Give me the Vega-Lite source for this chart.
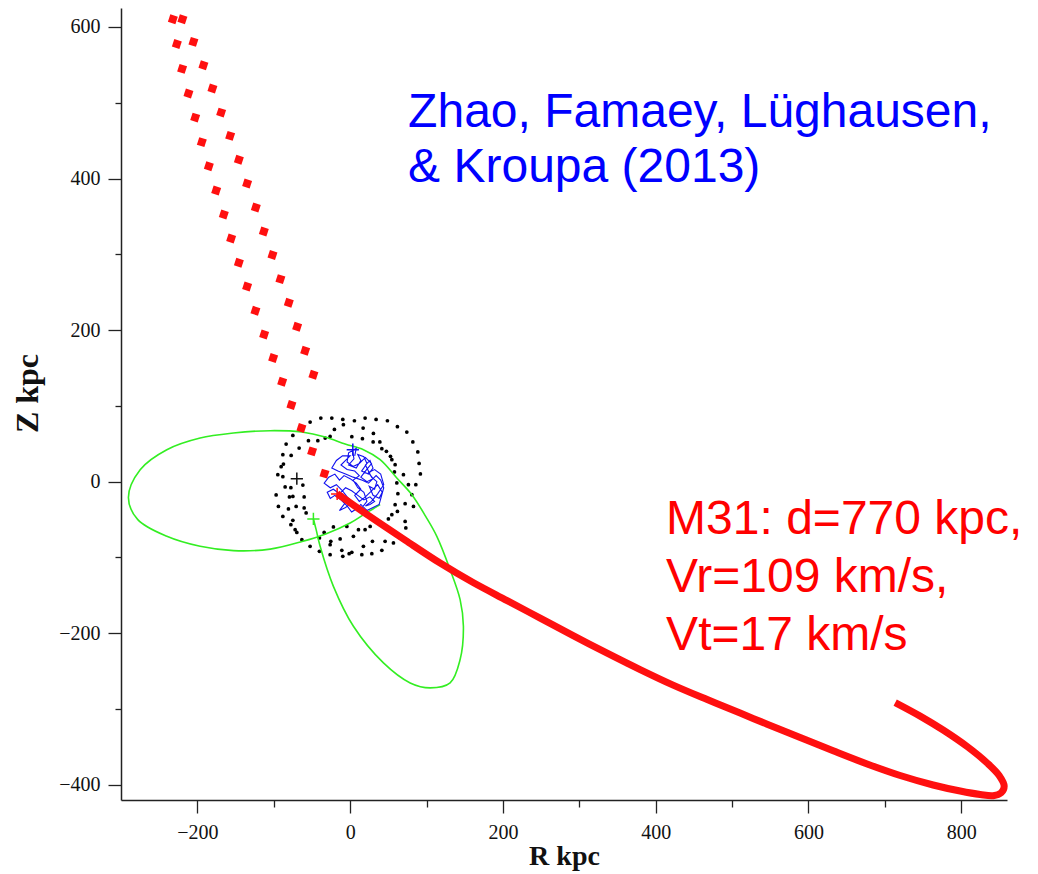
{
  "$schema": "https://vega.github.io/schema/vega-lite/v6.json",
  "width": 886,
  "height": 792,
  "autosize": {"type": "none"},
  "padding": {"left": 121, "top": 8, "right": 31, "bottom": 74},
  "background": "white",
  "config": {"view": {"stroke": null}, "font": "Liberation Serif"},
  "datasets": {
    "dots": [
      {"R":-52.4,"Z":78.7},{"R":-38.4,"Z":84.0},{"R":-24.0,"Z":84.0},{"R":-9.6,"Z":82.2},{"R":-20.6,"Z":69.0},{"R":-8.8,"Z":75.2},{"R":-32.7,"Z":57.6},{"R":-26.2,"Z":59.7},{"R":-42.3,"Z":54.1},{"R":-54.6,"Z":54.1},{"R":-75.0,"Z":61.1},{"R":-83.8,"Z":49.7},{"R":-66.8,"Z":44.4},{"R":-88.1,"Z":35.6},{"R":-77.2,"Z":34.7},{"R":-87.3,"Z":23.3},{"R":-90.3,"Z":19.8},{"R":-94.7,"Z":9.2},{"R":-88.1,"Z":6.6},
      {"R":5.6,"Z":80.4},{"R":19.6,"Z":84.0},{"R":34.0,"Z":82.2},{"R":48.8,"Z":80.4},{"R":61.9,"Z":72.5},{"R":74.2,"Z":65.5},{"R":82.1,"Z":52.4},{"R":88.6,"Z":39.2},{"R":90.3,"Z":24.1},{"R":92.0,"Z":10.2},{"R":17.0,"Z":70.8},{"R":30.5,"Z":63.7},{"R":2.2,"Z":59.3},{"R":16.1,"Z":56.7},{"R":30.1,"Z":52.4},{"R":38.9,"Z":52.4},{"R":41.5,"Z":43.5},{"R":47.5,"Z":40.0},{"R":52.8,"Z":33.4},{"R":54.6,"Z":29.0},{"R":58.9,"Z":22.4},{"R":58.0,"Z":12.8},{"R":69.8,"Z":9.2},{"R":61.1,"Z":-1.7},{"R":76.3,"Z":-4.0},
      {"R":-96.9,"Z":-17.5},{"R":-85.1,"Z":-7.0},{"R":-77.6,"Z":-7.9},{"R":-61.9,"Z":-4.4},{"R":-79.5,"Z":-20.2},{"R":-75.0,"Z":-19.4},{"R":-60.2,"Z":-20.2},{"R":-93.9,"Z":-32.6},{"R":-80.8,"Z":-36.0},{"R":-70.7,"Z":-32.6},{"R":-60.2,"Z":-34.7},{"R":-57.6,"Z":-41.3},{"R":-88.1,"Z":-45.8},{"R":-75.0,"Z":-51.0},{"R":-77.6,"Z":-56.7},{"R":-72.0,"Z":-63.3},{"R":-69.8,"Z":-66.9},{"R":-63.2,"Z":-76.5},{"R":-52.4,"Z":-85.3},{"R":-40.2,"Z":-74.2},{"R":-34.0,"Z":-66.9},{"R":-21.9,"Z":-59.7},{"R":-25.3,"Z":-78.7},{"R":-26.2,"Z":-83.1},{"R":-13.1,"Z":-75.6},{"R":-10.9,"Z":-90.6},{"R":-4.3,"Z":-59.0},{"R":-9.6,"Z":-98.5},{"R":-26.2,"Z":-96.3},{"R":-40.2,"Z":-91.9},
      {"R":86.0,"Z":-4.0},{"R":80.8,"Z":-17.1},{"R":62.5,"Z":-15.8},{"R":58.9,"Z":-30.3},{"R":72.0,"Z":-29.0},{"R":82.9,"Z":-32.6},{"R":61.9,"Z":-39.2},{"R":54.6,"Z":-43.5},{"R":50.1,"Z":-49.2},{"R":39.3,"Z":-54.5},{"R":45.8,"Z":-59.0},{"R":26.2,"Z":-59.0},{"R":19.6,"Z":-63.3},{"R":10.9,"Z":-63.3},{"R":4.3,"Z":-72.1},{"R":72.0,"Z":-52.4},{"R":72.9,"Z":-61.1},{"R":65.5,"Z":-74.2},{"R":56.7,"Z":-80.8},{"R":45.8,"Z":-78.7},{"R":29.2,"Z":-78.7},{"R":17.4,"Z":-85.3},{"R":2.2,"Z":-93.2},{"R":-1.3,"Z":-95.0},{"R":15.3,"Z":-96.3},{"R":28.4,"Z":-95.0},{"R":41.5,"Z":-90.6}
    ],
    "green": [
      {"i":1,"R":-48.1,"Z":-49.2},{"i":2,"R":-44.5,"Z":-63.3},{"i":3,"R":-39.3,"Z":-85.3},{"i":4,"R":-21.9,"Z":-138.1},{"i":5,"R":4.3,"Z":-190.8},{"i":6,"R":43.6,"Z":-239.1},{"i":7,"R":78.6,"Z":-265.5},{"i":8,"R":104.7,"Z":-272.1},{"i":9,"R":130.9,"Z":-265.5},{"i":10,"R":144.0,"Z":-234.7},{"i":11,"R":148.3,"Z":-190.8},{"i":12,"R":144.0,"Z":-155.6},{"i":13,"R":130.9,"Z":-116.1},{"i":14,"R":113.5,"Z":-72.1},{"i":15,"R":98.9,"Z":-45.8},{"i":16,"R":80.8,"Z":-17.1},{"i":17,"R":61.1,"Z":4.9},{"i":18,"R":39.3,"Z":29.0},{"i":19,"R":17.4,"Z":42.2},{"i":20,"R":-6.5,"Z":49.7},{"i":21,"R":-32.7,"Z":59.0},{"i":22,"R":-63.2,"Z":65.5},{"i":23,"R":-104.7,"Z":67.3},{"i":24,"R":-152.8,"Z":64.2},{"i":25,"R":-196.4,"Z":57.6},{"i":26,"R":-240.0,"Z":42.2},{"i":27,"R":-274.9,"Z":15.8},{"i":28,"R":-290.3,"Z":-21.0},{"i":29,"R":-278.0,"Z":-50.1},{"i":30,"R":-240.0,"Z":-72.1},{"i":31,"R":-196.4,"Z":-85.3},{"i":32,"R":-152.8,"Z":-91.0},{"i":33,"R":-104.7,"Z":-89.0},{"i":34,"R":-63.0,"Z":-79.0},{"i":35,"R":-32.0,"Z":-69.0},{"i":36,"R":0.0,"Z":-54.5},{"i":37,"R":19.6,"Z":-42.2},{"i":38,"R":39.3,"Z":-30.3}
    ],
    "blue": [
      {"i":1,"R":3,"Z":42},{"i":2,"R":5,"Z":30},{"i":3,"R":-2,"Z":22},{"i":4,"R":8,"Z":18},{"i":5,"R":14,"Z":28},{"i":6,"R":10,"Z":36},{"i":7,"R":18,"Z":33},{"i":8,"R":22,"Z":24},{"i":9,"R":15,"Z":14},{"i":10,"R":24,"Z":10},{"i":11,"R":30,"Z":18},{"i":12,"R":26,"Z":28},{"i":13,"R":20,"Z":22},{"i":14,"R":28,"Z":6},{"i":15,"R":35,"Z":0},{"i":16,"R":32,"Z":-10},{"i":17,"R":25,"Z":-6},{"i":18,"R":30,"Z":-18},{"i":19,"R":38,"Z":-22},{"i":20,"R":42,"Z":-14},{"i":21,"R":36,"Z":-4},{"i":22,"R":28,"Z":-12},{"i":23,"R":20,"Z":-20},{"i":24,"R":12,"Z":-26},{"i":25,"R":6,"Z":-18},{"i":26,"R":14,"Z":-10},{"i":27,"R":8,"Z":-2},{"i":28,"R":0,"Z":4},{"i":29,"R":-8,"Z":8},{"i":30,"R":-14,"Z":2},{"i":31,"R":-20,"Z":10},{"i":32,"R":-28,"Z":6},{"i":33,"R":-34,"Z":-2},{"i":34,"R":-26,"Z":-8},{"i":35,"R":-18,"Z":-4},{"i":36,"R":-10,"Z":-12},{"i":37,"R":-4,"Z":-20},{"i":38,"R":2,"Z":-28},{"i":39,"R":-6,"Z":-34},{"i":40,"R":-14,"Z":-38},{"i":41,"R":-8,"Z":-30},{"i":42,"R":-2,"Z":-22},{"i":43,"R":6,"Z":-30},{"i":44,"R":16,"Z":-34},{"i":45,"R":22,"Z":-26},{"i":46,"R":18,"Z":-14},{"i":47,"R":10,"Z":-8},{"i":48,"R":4,"Z":2},{"i":49,"R":12,"Z":8},{"i":50,"R":6,"Z":14},{"i":51,"R":-4,"Z":16},{"i":52,"R":-12,"Z":22},{"i":53,"R":-6,"Z":28},{"i":54,"R":0,"Z":34},{"i":55,"R":-10,"Z":34},{"i":56,"R":-18,"Z":28},{"i":57,"R":-24,"Z":18},{"i":58,"R":-16,"Z":14},{"i":59,"R":-6,"Z":10},{"i":60,"R":4,"Z":6},{"i":61,"R":16,"Z":2},{"i":62,"R":24,"Z":-2},{"i":63,"R":34,"Z":8},{"i":64,"R":40,"Z":2},{"i":65,"R":44,"Z":-8},{"i":66,"R":38,"Z":-30},{"i":67,"R":30,"Z":-34},{"i":68,"R":22,"Z":-38},{"i":69,"R":14,"Z":-30},{"i":70,"R":8,"Z":-36},{"i":71,"R":2,"Z":-40},{"i":72,"R":-4,"Z":-32},{"i":73,"R":-12,"Z":-24},{"i":74,"R":-20,"Z":-18},{"i":75,"R":-26,"Z":-22},{"i":76,"R":-30,"Z":-14},{"i":77,"R":-22,"Z":-10},{"i":78,"R":-14,"Z":-16},{"i":79,"R":-6,"Z":-8},{"i":80,"R":2,"Z":-12},{"i":81,"R":10,"Z":-18},{"i":82,"R":18,"Z":-24},{"i":83,"R":26,"Z":-20},{"i":84,"R":32,"Z":-26},{"i":85,"R":26,"Z":-30},{"i":86,"R":20,"Z":-32},{"i":87,"R":28,"Z":-26},{"i":88,"R":36,"Z":-16},{"i":89,"R":44,"Z":-4},{"i":90,"R":40,"Z":10},{"i":91,"R":32,"Z":16},{"i":92,"R":24,"Z":12},{"i":93,"R":30,"Z":4},{"i":94,"R":22,"Z":0},{"i":95,"R":14,"Z":6},{"i":96,"R":20,"Z":14},{"i":97,"R":28,"Z":24},{"i":98,"R":20,"Z":32},{"i":99,"R":12,"Z":24},{"i":100,"R":4,"Z":20},{"i":101,"R":-4,"Z":26},{"i":102,"R":-2,"Z":38},{"i":103,"R":8,"Z":44},{"i":104,"R":6,"Z":34}
    ],
    "squares": [
      {"R":-232.1,"Z":610.2},{"R":-226.9,"Z":577.6},{"R":-220.0,"Z":544.7},{"R":-211.7,"Z":512.1},{"R":-202.9,"Z":480.4},{"R":-194.2,"Z":448.0},{"R":-185.0,"Z":416.3},{"R":-175.4,"Z":384.2},{"R":-165.4,"Z":352.5},{"R":-155.8,"Z":320.9},{"R":-145.7,"Z":288.8},{"R":-134.9,"Z":257.6},{"R":-124.0,"Z":225.5},{"R":-112.6,"Z":194.3},{"R":-100.8,"Z":163.1},{"R":-89.0,"Z":131.9},{"R":-76.9,"Z":101.2},{"R":-63.8,"Z":70.8},{"R":-49.8,"Z":40.0},{"R":-33.6,"Z":10.6},
      {"R":-219.6,"Z":610.2},{"R":-205.2,"Z":580.3},{"R":-192.1,"Z":549.5},{"R":-180.3,"Z":518.7},{"R":-168.9,"Z":487.0},{"R":-157.1,"Z":456.3},{"R":-145.7,"Z":424.7},{"R":-134.9,"Z":393.4},{"R":-123.5,"Z":361.7},{"R":-113.0,"Z":330.1},{"R":-101.7,"Z":299.0},{"R":-91.3,"Z":267.3},{"R":-80.3,"Z":236.1},{"R":-69.4,"Z":204.4},{"R":-58.9,"Z":172.8},{"R":-48.1,"Z":141.1}
    ],
    "red": [
      {"i":1,"R":-17.0,"Z":-15.8},{"i":2,"R":26.2,"Z":-46.2},{"i":3,"R":72.0,"Z":-77.1},{"i":4,"R":117.8,"Z":-107.4},{"i":5,"R":161.0,"Z":-133.1},{"i":6,"R":205.6,"Z":-156.9},{"i":7,"R":248.8,"Z":-180.0},{"i":8,"R":292.0,"Z":-203.1},{"i":9,"R":336.5,"Z":-226.2},{"i":10,"R":379.7,"Z":-247.9},{"i":11,"R":422.9,"Z":-268.4},{"i":12,"R":467.5,"Z":-287.5},{"i":13,"R":510.6,"Z":-305.3},{"i":14,"R":546.0,"Z":-320.0},{"i":15,"R":589.2,"Z":-337.6},{"i":16,"R":632.4,"Z":-355.1},{"i":17,"R":676.9,"Z":-372.5},{"i":18,"R":720.1,"Z":-387.7},{"i":19,"R":763.3,"Z":-400.2},{"i":20,"R":798.7,"Z":-408.2},{"i":21,"R":824.9,"Z":-412.8},{"i":22,"R":841.9,"Z":-414.4},{"i":23,"R":852.4,"Z":-410.5},{"i":24,"R":856.3,"Z":-401.6},{"i":25,"R":849.7,"Z":-387.7},{"i":26,"R":834.0,"Z":-371.2},{"i":27,"R":807.8,"Z":-349.5},{"i":28,"R":776.4,"Z":-327.7},{"i":29,"R":746.3,"Z":-309.3},{"i":30,"R":713.6,"Z":-291.5}
    ],
    "crosses": [
      {"R":-69.8,"Z":4.0,"who":"MW"},{"R":-17.0,"Z":-16.2,"who":"M31"},{"R":-48.1,"Z":-49.2,"who":"orbit"},{"R":3.5,"Z":42.2,"who":"sat"}
    ]
  },
  "layer": [
    {
      "data": {"name": "dots"},
      "mark": {"type": "point", "shape": "circle", "filled": true, "size": 14, "opacity": 1, "color": "black"},
      "encoding": {
        "x": {"field": "R", "type": "quantitative", "scale": {"domain": [-300, 860], "nice": false, "zero": false},
          "axis": {"values": [-200,-100,0,100,200,300,400,500,600,700,800],
            "labelExpr": "datum.value % 200 === 0 ? datum.label : ''",
            "tickSize": {"condition": {"test": "datum.value % 200 === 0", "value": 13}, "value": 7},
            "grid": false, "domainColor": "#222", "domainWidth": 1.5, "tickColor": "#222", "tickWidth": 1.3,
            "labelFont": "Liberation Serif", "labelFontSize": 20, "labelColor": "#111", "labelFlush": false, "labelOverlap": false, "labelPadding": 9,
            "title": "R kpc", "titleFont": "Liberation Serif", "titleFontSize": 28, "titleFontWeight": "bold", "titleColor": "#111", "titlePadding": 0}},
        "y": {"field": "Z", "type": "quantitative", "scale": {"domain": [-420, 625], "nice": false, "zero": false},
          "axis": {"values": [-400,-300,-200,-100,0,100,200,300,400,500,600],
            "labelExpr": "datum.value % 200 === 0 ? datum.label : ''",
            "tickSize": {"condition": {"test": "datum.value % 200 === 0", "value": 13}, "value": 6},
            "grid": false, "domainColor": "#222", "domainWidth": 1.5, "tickColor": "#222", "tickWidth": 1.3,
            "labelFont": "Liberation Serif", "labelFontSize": 20, "labelColor": "#111", "labelFlush": false, "labelOverlap": false, "labelPadding": 8,
            "title": "Z kpc", "titleFont": "Liberation Serif", "titleFontSize": 32, "titleFontWeight": "bold", "titleColor": "#111", "titlePadding": 14, "titleY": 385}}
      }
    },
    {
      "data": {"name": "green"},
      "mark": {"type": "line", "color": "#33EE22", "strokeWidth": 1.6, "interpolate": "catmull-rom"},
      "encoding": {"x": {"field": "R", "type": "quantitative"}, "y": {"field": "Z", "type": "quantitative"}, "order": {"field": "i", "type": "quantitative"}}
    },
    {
      "data": {"name": "blue"},
      "mark": {"type": "line", "color": "#1010F0", "strokeWidth": 1.1},
      "encoding": {"x": {"field": "R", "type": "quantitative"}, "y": {"field": "Z", "type": "quantitative"}, "order": {"field": "i", "type": "quantitative"}}
    },
    {
      "data": {"name": "squares"},
      "mark": {"type": "point", "shape": "square", "filled": true, "size": 62, "opacity": 1, "color": "#FF1010", "angle": 18},
      "encoding": {"x": {"field": "R", "type": "quantitative"}, "y": {"field": "Z", "type": "quantitative"}}
    },
    {
      "data": {"name": "red"},
      "mark": {"type": "line", "color": "#FF1010", "strokeWidth": 7, "interpolate": "catmull-rom", "strokeCap": "butt"},
      "encoding": {"x": {"field": "R", "type": "quantitative"}, "y": {"field": "Z", "type": "quantitative"}, "order": {"field": "i", "type": "quantitative"}}
    },
    {
      "data": {"name": "crosses"},
      "mark": {"type": "point", "shape": "M-1,0H1M0,-1V1", "filled": false, "size": 150, "strokeWidth": 1.5, "opacity": 1},
      "encoding": {"x": {"field": "R", "type": "quantitative"}, "y": {"field": "Z", "type": "quantitative"},
        "color": {"field": "who", "type": "nominal", "scale": {"domain": ["MW","M31","orbit","sat"], "range": ["#111111","#FF1010","#33EE22","#1010F0"]}, "legend": null}}
    },
    {
      "data": {"values": [{"label": ["Zhao, Famaey, Lüghausen,", "& Kroupa (2013)"], "R": 75.9, "Z": 468.2}]},
      "mark": {"type": "text", "align": "left", "baseline": "alphabetic", "font": "Liberation Sans", "fontSize": 48, "lineHeight": 55, "color": "#0000FF"},
      "encoding": {"x": {"field": "R", "type": "quantitative"}, "y": {"field": "Z", "type": "quantitative"}, "text": {"field": "label"}}
    },
    {
      "data": {"values": [{"label": ["M31: d=770 kpc,", "Vr=109 km/s,", "Vt=17 km/s"], "R": 413.7, "Z": -68.6}]},
      "mark": {"type": "text", "align": "left", "baseline": "alphabetic", "font": "Liberation Sans", "fontSize": 48, "lineHeight": 58, "color": "#FF0000"},
      "encoding": {"x": {"field": "R", "type": "quantitative"}, "y": {"field": "Z", "type": "quantitative"}, "text": {"field": "label"}}
    }
  ]
}
